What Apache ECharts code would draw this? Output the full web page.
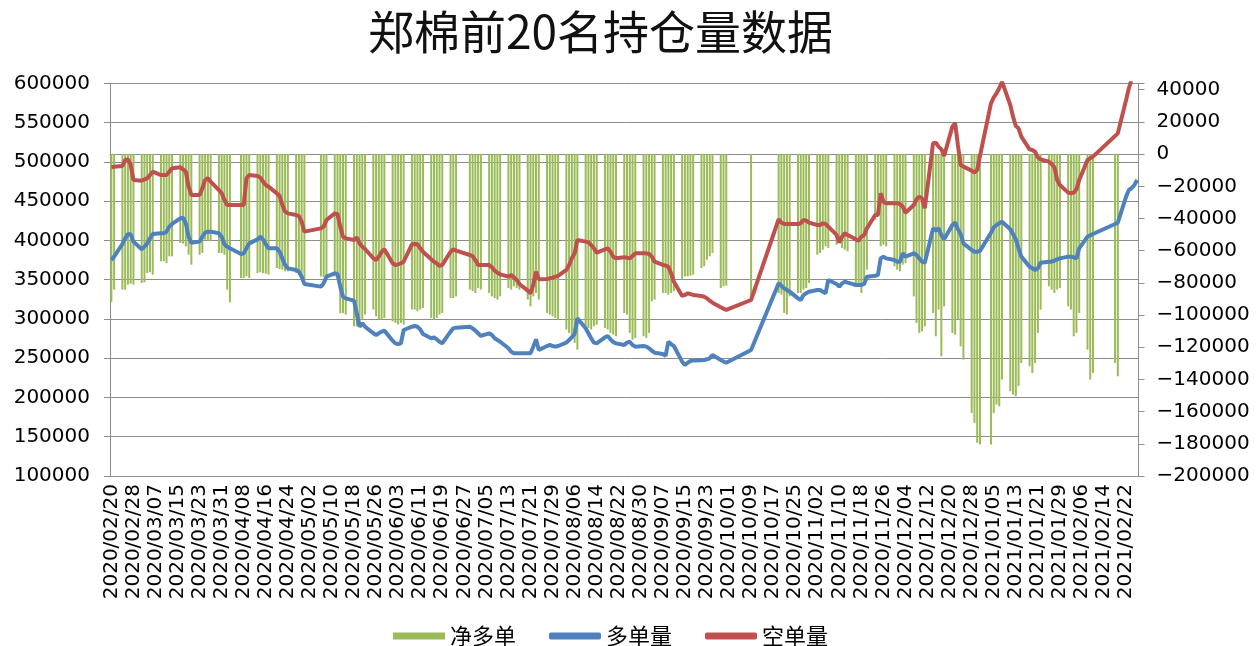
<!DOCTYPE html>
<html>
<head>
<meta charset="utf-8">
<script src="https://cdn.jsdelivr.net/npm/echarts@6/dist/echarts.min.js"></script>
<style>
  html, body { margin: 0; padding: 0; background: #fff; }
  #chart { width: 1260px; height: 646px; }
</style>
</head>
<body>
<div id="chart"></div>
<script>
// calendar range of the date axis
const firstDay = '2020-02-20';
const lastDay = '2021-02-26';

// weekdays with no trading (holidays)
const holidays = [
  '2020-04-06', '2020-05-01', '2020-05-04', '2020-05-05', '2020-06-25', '2020-06-26',
  '2020-10-01', '2020-10-02', '2020-10-05', '2020-10-06', '2020-10-07', '2020-10-08',
  '2021-01-01', '2021-02-11', '2021-02-12', '2021-02-15', '2021-02-16', '2021-02-17'
];
// trading days with no data in the sheet
const noData = ['2020-10-12', '2020-10-13', '2020-10-14', '2020-10-15', '2020-10-16'];

// 多单量, one value per trading day (one row per week)
const longVals = [
  375000, 379300,
  395400, 402600, 408100, 407700, 398400,
  388600, 392000, 396200, 402600, 408100,
  409000, 409000, 411100, 417500, 420900,
  428100, 428900, 421700, 404700, 397100,
  398400, 404700, 409800, 411100, 411100,
  409000, 404700, 395000, 392000, 389900,
  382700, 383500, 389900, 396200,
  401300, 404700, 401300, 395000, 389900,
  389900, 385600, 377100, 368700, 364400,
  362300, 360200, 353800, 344500,
  341100, 345300, 353800,
  358000, 357200, 341100, 328300, 326200,
  323200, 307100, 290100, 294400, 290100,
  281700, 279500, 281700, 283800, 285100,
  272300, 268900, 268100, 268900, 285900,
  290100, 291000, 290100, 286700, 280800,
  275300, 276600, 274000, 271000, 268900,
  283800, 288000, 288900,
  290100, 288000, 285100, 281700, 278300,
  281700, 279500, 275300, 273200, 271000,
  262600, 258300, 256200, 256200, 256200,
  256200, 256200, 264700, 274000, 260400,
  265500, 266800, 265500, 264700, 265500,
  269800, 273200, 276600, 280800, 300800,
  288000, 281700, 275300, 269800, 268900,
  276600, 278300, 274000, 270600, 268900,
  266800, 269800, 271000, 266800, 264700,
  265500, 264700, 262600, 259600, 257000,
  255300, 252800, 271000, 268000, 265500,
  245600, 241300, 244300, 246400, 246900,
  247300, 247700, 248600, 249800, 254100,
  247700, 245600, 244300,
  260400,
  345400, 341900, 338900, 336800, 334700,
  326200, 324100, 330500, 332600, 334700,
  336800, 336800, 334700, 332600, 349600,
  344500, 341100, 345300, 347400, 346200,
  343200, 343200, 343200, 344500, 353800,
  355000, 355900, 377100, 379300, 377100,
  375000, 372900, 372900, 383500, 379300,
  383500, 381400, 377100, 372900, 371600,
  415300, 412400, 415300, 406900, 401300,
  419600, 422600, 414100, 408100, 396200,
  387800, 385600, 385600, 386500,
  409800, 416600, 419600, 421700, 423800,
  414100, 408100, 401300, 389900, 379300,
  366500, 364400, 362300, 364400, 371600,
  372900, 372900, 374200, 375900, 377100,
  379300, 379300, 378400, 377100, 389900,
  404700, 406400, 408100,
  420900, 422600,
  455700, 464100, 466300, 470500, 476900
];

// 空单量
const shortVals = [
  493000, 493900,
  494700, 502300, 503200, 496000, 476900,
  476000, 477700, 479000, 483200, 487500,
  483200, 483200, 483200, 487500, 491700,
  493000, 490500, 487500, 468400, 457800,
  457800, 466300, 476900, 479000, 474800,
  464100, 459900, 451400, 445000, 445000,
  445000, 445000, 479000, 483200,
  482000, 479900, 474800, 470500, 468400,
  459900, 456500, 445000, 436600, 434400,
  432300, 431000, 423800, 411100,
  415300, 417500, 426000,
  434400, 433600, 417500, 404700, 402600,
  400500, 403900, 396200, 392000, 389000,
  377200, 375000, 379300, 385600, 388600,
  370800, 368700, 369500, 370800, 372900,
  395000, 395400, 395000, 389900, 385600,
  375900, 372900, 370800, 367400, 368700,
  385600, 388600, 386900,
  381400, 380100, 375000, 368700, 368700,
  368700, 365700, 361400, 358900, 356800,
  353800, 355900, 352900, 349600, 344500,
  336000, 332600, 343200, 360200, 350400,
  350800, 351700, 352500, 353800, 354700,
  362300, 368700, 377200, 383500, 400500,
  398400, 397500, 394100, 389900, 384400,
  388600, 389900, 385600, 379300, 377200,
  378400, 378000, 377100, 380100, 383500,
  383500, 383500, 382700, 379300, 372900,
  368700, 367800, 366500, 358000, 347400,
  329200, 330500, 332600, 331700, 330500,
  329200, 328300, 326200, 323200, 320700,
  314800, 313100, 311400,
  324100,
  427000, 422600, 420900, 420900, 420900,
  420900, 421700, 426000, 425100, 422600,
  419600, 419600, 421700, 420900, 417500,
  406900, 397100, 404700, 409000, 406900,
  401300, 399600, 404700, 406900, 415300,
  432300, 432300, 459900, 449300, 447200,
  447200, 447200, 446300, 442900, 435300,
  445000, 452300, 455700, 453500, 440800,
  523600, 524400, 519300, 515900, 507400,
  544800, 549000, 521400, 496000, 493900,
  488800, 486200, 489600, 507400,
  574500, 582100, 587200, 593600, 602100,
  572400, 557500, 545600, 542700, 532100,
  515900, 515100, 512900, 505700, 503200,
  500200, 497200, 493000, 476900, 470500,
  460800, 460000, 460800, 465000, 476900,
  502300, 504500, 506600,
  532900, 536300,
  578700, 593600, 605000, 608000, 610000
];

// 净多单 (right axis)
const netVals = [
  -92100, -84200,
  -84200, -84200, -81100, -80500, -81100,
  -80100, -79700, -73900, -73400, -74900,
  -66600, -66600, -67700, -63500, -63500,
  -55200, -55600, -57300, -62500, -68700,
  -62500, -61400, -53200, -53600, -54200,
  -61400, -61400, -62500, -84200, -92100,
  -77000, -77000, -75900, -77000,
  -73900, -73400, -73900, -74300, -74900,
  -70800, -71400, -71800, -72800, -72800,
  -73900, -74900, -75900, -78000,
  -75900, -76300, -77000,
  -75900, -77000, -98700, -98700, -99700,
  -107000, -107000, -105900, -102800, -99700,
  -96600, -100800, -102800, -102800, -101800,
  -103900, -104900, -105900, -104900, -105900,
  -96600, -96600, -97700, -96600, -95600,
  -101800, -102800, -101800, -99700, -98700,
  -89400, -89400, -88400,
  -84200, -85200, -86300, -83200, -84200,
  -86300, -88400, -89400, -90400, -88400,
  -83200, -84200, -82100, -83200, -84200,
  -90400, -94600, -88400, -86300, -90400,
  -98700, -99700, -100800, -101800, -102800,
  -109000, -111100, -113200, -117300, -121500,
  -107000, -108000, -109000, -107000, -106000,
  -108000, -109000, -111100, -112200, -113200,
  -98700, -99700, -111100, -115300, -114200,
  -113200, -114200, -111100, -91400, -90400,
  -86300, -86300, -87300, -86300, -85200,
  -78000, -75900, -75900, -75500, -74900,
  -70800, -69700, -65600, -63500, -61400,
  -83200, -82100, -81700,
  -88400,
  -86300, -87300, -98700, -99700, -88400,
  -86300, -86300, -84200, -83200, -80100,
  -62500, -61400, -59400, -57300, -58300,
  -56300, -55200, -58300, -59400, -60400,
  -80100, -82100, -86300, -78000, -71800,
  -40700, -38700, -57300, -56300, -57300,
  -69700, -71800, -72800, -68700, -67700,
  -88400, -104900, -111100, -110100, -107000,
  -98700, -113200, -96600, -125600, -94600,
  -111100, -112200, -102800, -119400, -127700,
  -160800, -167000, -179400, -180500,
  -180500, -160800, -155600, -156700, -140100,
  -147300, -149400, -150500, -144200, -129800,
  -131800, -136000, -129800, -111100, -96600,
  -82100, -84200, -86300, -84200, -83200,
  -94600, -96600, -113200, -111100, -98700,
  -121500, -140100, -136000,
  -129800, -138000,
  null, null, null, null, null
];

// build calendar days and map the trading-day values onto them
function iso(d) {
  return d.getUTCFullYear() + '-' + String(d.getUTCMonth() + 1).padStart(2, '0') + '-' +
    String(d.getUTCDate()).padStart(2, '0');
}
const days = [];
const longData = [], shortData = [], netData = [];
let k = 0;
for (let d = new Date(firstDay + 'T00:00:00Z'); iso(d) <= lastDay; d.setUTCDate(d.getUTCDate() + 1)) {
  const key = iso(d);
  days.push(key.replace(/-/g, '/'));
  const wd = d.getUTCDay();
  if (wd === 0 || wd === 6 || holidays.includes(key) || noData.includes(key)) {
    longData.push(null); shortData.push(null); netData.push(null);
  } else {
    longData.push(longVals[k]); shortData.push(shortVals[k]); netData.push(netVals[k]);
    k++;
  }
}
if (k !== longVals.length || k !== shortVals.length || k !== netVals.length) {
  console.error('length mismatch', k, longVals.length, shortVals.length, netVals.length);
}

const axisGrey = '#8c8c8c';
const labelFont = { fontFamily: 'DejaVu Sans', fontSize: 20, color: '#000' };

const chart = echarts.init(document.getElementById('chart'));
chart.setOption({
  animation: false,
  title: {
    text: '郑棉前20名持仓量数据',
    left: 363,
    top: 4,
    textStyle: { fontFamily: 'Noto Sans CJK SC', fontSize: 46, fontWeight: 'normal', color: '#111' }
  },
  legend: {
    left: 388,
    top: 620,
    itemWidth: 52,
    itemHeight: 7,
    itemGap: 33,
    textStyle: { fontFamily: 'Noto Sans CJK SC', fontSize: 22, color: '#000' },
    data: [
      { name: '净多单', icon: 'rect' },
      { name: '多单量', icon: 'roundRect' },
      { name: '空单量', icon: 'roundRect' }
    ]
  },
  grid: { left: 110, right: 121.5, top: 83.3, bottom: 170, containLabel: false },
  xAxis: {
    type: 'category',
    data: days,
    boundaryGap: true,
    axisLine: { lineStyle: { color: axisGrey } },
    axisTick: { interval: 7, length: 6, lineStyle: { color: axisGrey } },
    axisLabel: Object.assign({ interval: 7, rotate: 90, margin: 8 }, labelFont),
    splitLine: { show: false }
  },
  yAxis: [
    {
      type: 'value',
      min: 100000,
      max: 600000,
      interval: 50000,
      axisLine: { show: true, lineStyle: { color: axisGrey } },
      axisTick: { show: true, length: 6, lineStyle: { color: axisGrey } },
      axisLabel: Object.assign({ margin: 20, formatter: v => String(v) }, labelFont),
      splitLine: { lineStyle: { color: axisGrey } }
    },
    {
      type: 'value',
      min: -200000,
      max: 44000,
      interval: 20000,
      position: 'right',
      axisLine: { show: true, lineStyle: { color: axisGrey } },
      axisTick: { show: true, length: 6, lineStyle: { color: axisGrey } },
      axisLabel: Object.assign({
        margin: 18,
        formatter: v => (v > 40000 ? '' : String(v).replace('-', '\u2212'))
      }, labelFont),
      splitLine: { show: false }
    }
  ],
  series: [
    {
      name: '净多单',
      type: 'bar',
      yAxisIndex: 1,
      data: netData,
      barWidth: 2,
      itemStyle: { color: '#9BBB59' }
    },
    {
      name: '多单量',
      type: 'line',
      yAxisIndex: 0,
      data: longData,
      connectNulls: true,
      symbol: 'none',
      lineStyle: { width: 4, color: '#4F81BD' },
      itemStyle: { color: '#4F81BD' }
    },
    {
      name: '空单量',
      type: 'line',
      yAxisIndex: 0,
      data: shortData,
      connectNulls: true,
      symbol: 'none',
      lineStyle: { width: 4, color: '#C0504D' },
      itemStyle: { color: '#C0504D' }
    }
  ]
});
</script>
</body>
</html>
